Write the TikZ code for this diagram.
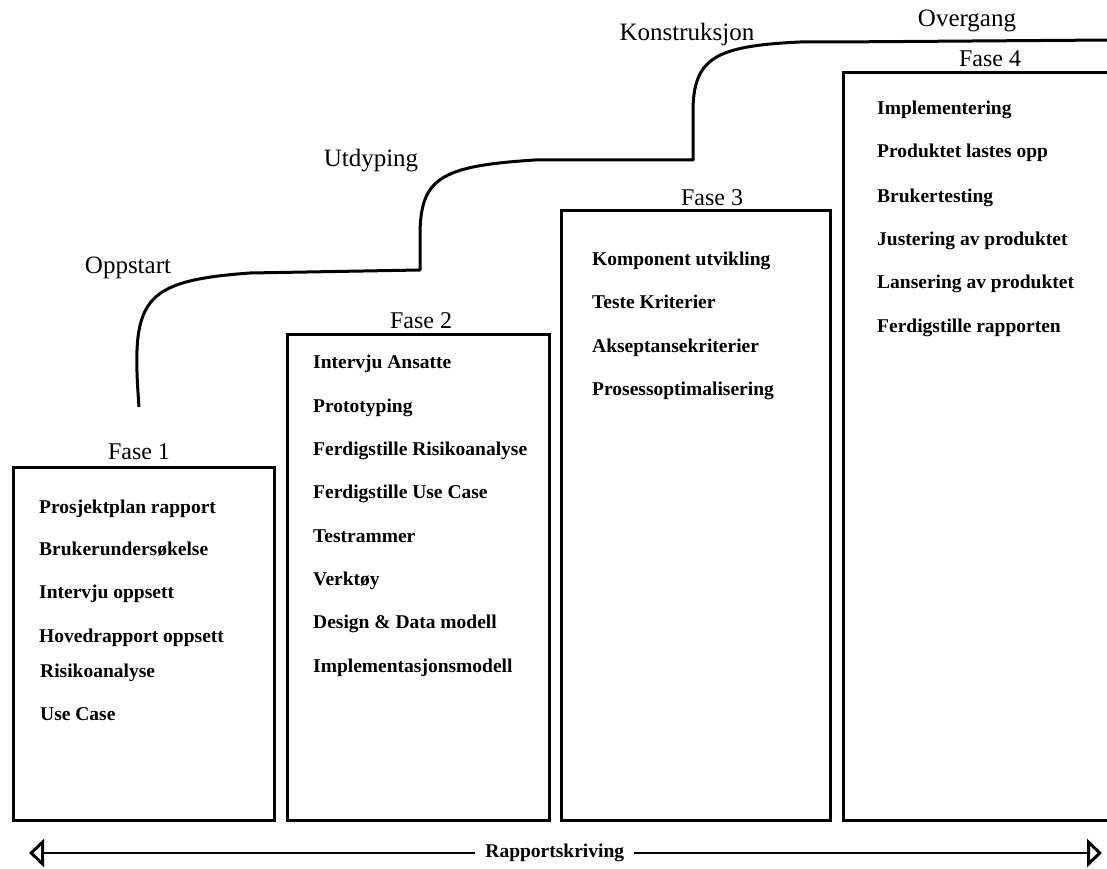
\documentclass[tikz,border=0pt]{standalone}
\usepackage{fontspec}
\setmainfont{Liberation Serif}
\usetikzlibrary{arrows.meta}
\begin{document}
\begin{tikzpicture}[x=1pt,y=-1pt,
  phasebox/.style={line width=3pt},
  stage/.style={font=\fontsize{25}{29}\selectfont, anchor=base, inner sep=0pt},
  phase/.style={font=\fontsize{24}{28}\selectfont, anchor=base, inner sep=0pt},
  task/.style={font=\fontsize{19.5}{23}\selectfont\bfseries, anchor=base west, inner sep=0pt},
  path line/.style={line width=3pt, line join=round},
  report/.style={line width=2.2pt, {Triangle[open, length=15pt, width=28pt, line width=3pt]}-{Triangle[open, length=15pt, width=28pt, line width=3pt]}}
]
\useasboundingbox (0,0) rectangle (1107,869);

% phase boxes
\draw[phasebox] (13,467) rectangle (274,820);
\draw[phasebox] (287,334) rectangle (549,820);
\draw[phasebox] (561,210) rectangle (830,820);
\draw[phasebox] (1110,73) -- (843,73) -- (843,820) -- (1110,820);

% stepped progress line
\draw[path line] (139,407) .. controls (131,300) and (140,281) .. (250,273) -- (420,270)
  -- (420,236) .. controls (420,178) and (440,166) .. (535,160) -- (693,160)
  -- (693,112) .. controls (693,58) and (715,46) .. (800,42) -- (835,42) -- (1110,40);

% stage labels
\node[stage] (oppstart) at (128,273) {Oppstart};
\node[stage] (utdyping) at (371,167) {Utdyping};
\node[stage] (konstruksjon) at (687,41) {Konstruksjon};
\node[stage] (overgang) at (967,27) {Overgang};

% phase titles
\node[phase] (f1) at (139,459) {Fase 1};
\node[phase] (f2) at (421,328) {Fase 2};
\node[phase] (f3) at (712,205) {Fase 3};
\node[phase] (f4) at (990,67) {Fase 4};

% phase 1 tasks
\node[task] (a1) at (39,513) {Prosjektplan rapport};
\node[task] (a2) at (39,555) {Brukerundersøkelse};
\node[task] (a3) at (39,598) {Intervju oppsett};
\node[task] (a4) at (39,642) {Hovedrapport oppsett};
\node[task] (a5) at (40,677) {Risikoanalyse};
\node[task] (a6) at (40,720) {Use Case};

% phase 2 tasks
\node[task] (b1) at (313,368) {Intervju Ansatte};
\node[task] (b2) at (313,412) {Prototyping};
\node[task] (b3) at (313,455) {Ferdigstille Risikoanalyse};
\node[task] (b4) at (313,498) {Ferdigstille Use Case};
\node[task] (b5) at (313,542) {Testrammer};
\node[task] (b6) at (313,585) {Verktøy};
\node[task] (b7) at (313,628) {Design \& Data modell};
\node[task] (b8) at (313,672) {Implementasjonsmodell};

% phase 3 tasks
\node[task] (c1) at (592,265) {Komponent utvikling};
\node[task] (c2) at (592,308) {Teste Kriterier};
\node[task] (c3) at (592,352) {Akseptansekriterier};
\node[task] (c4) at (592,395) {Prosessoptimalisering};

% phase 4 tasks
\node[task] (d1) at (877,115) {Implementering};
\node[task] (d2) at (877,158) {Produktet lastes opp};
\node[task] (d3) at (877,202) {Brukertesting};
\node[task] (d4) at (877,245) {Justering av produktet};
\node[task] (d5) at (877,288) {Lansering av produktet};
\node[task] (d6) at (877,332) {Ferdigstille rapporten};

% report writing arrow
\coordinate (rl) at (29,853);
\coordinate (rr) at (1102,853);
\draw[report] (rl) -- (rr)
  node[pos=0.490, fill=white, inner xsep=10pt, inner ysep=4pt, font=\fontsize{19.5}{23}\selectfont\bfseries] (rapport) {Rapportskriving};
\end{tikzpicture}
\end{document}
